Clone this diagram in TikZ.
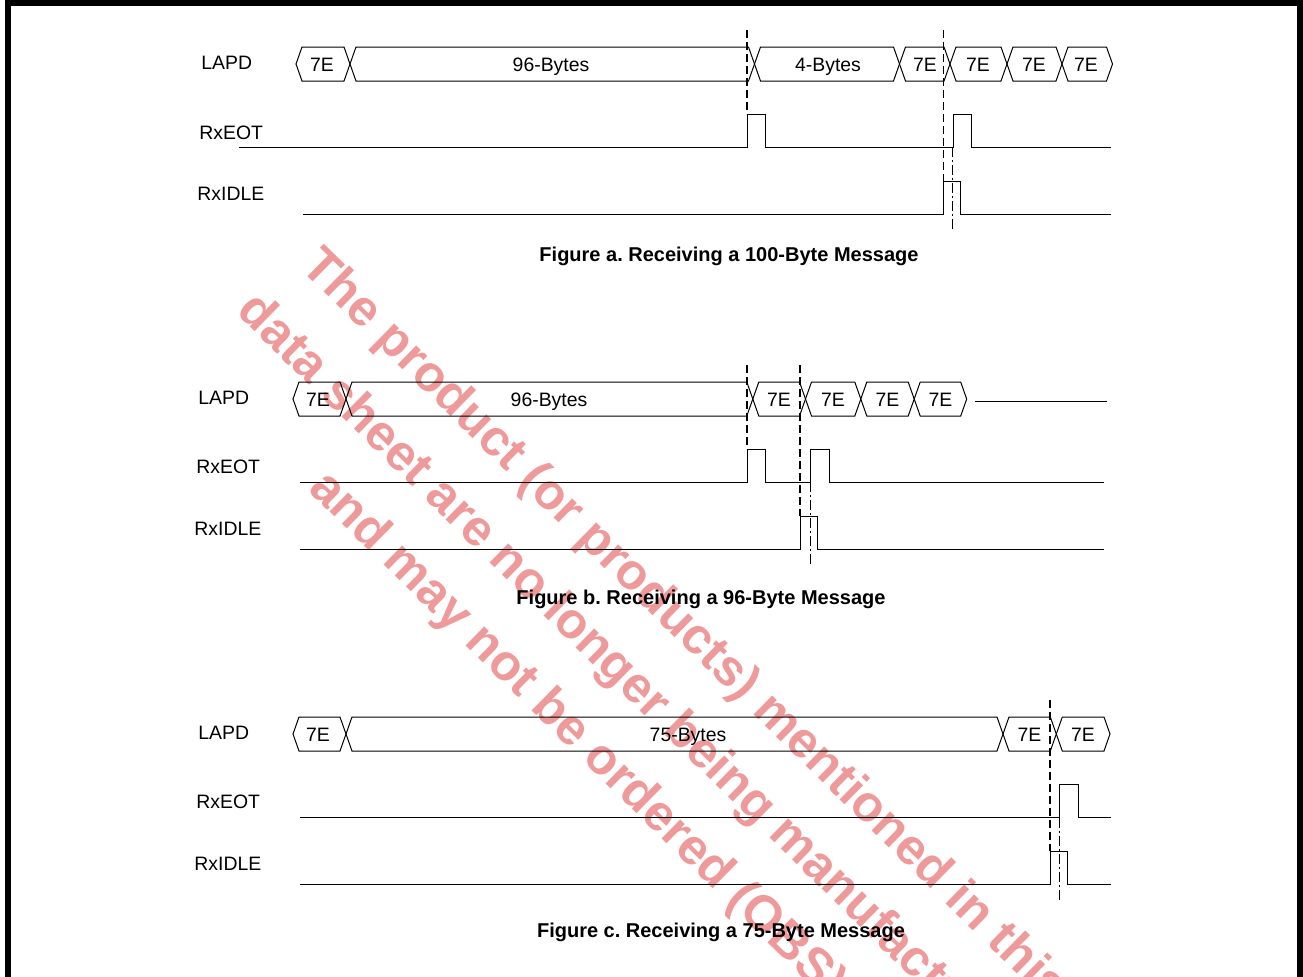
\documentclass[tikz,border=0pt]{standalone}
\usepackage{fontspec}
\setmainfont{Liberation Sans}
\frenchspacing
\definecolor{wmred}{RGB}{239,154,154}
% one byte field of the LAPD bus, from #1 to #2, centred on y=#3
\newcommand{\hexseg}[3]{%
  \draw[busline] (#1,#3) -- (#1+6,#3-17) -- (#2-6,#3-17) -- (#2,#3)
    -- (#2-6,#3+17) -- (#1+6,#3+17) -- cycle;}
\tikzset{
	busline/.style={line width=0.5pt},
	sigline/.style={line width=0.5pt},
	guidedash/.style={line width=0.8pt, dash pattern=on 4pt off 2pt},
	guidedot/.style={line width=0.8pt, dash pattern=on 5pt off 1.5pt on 1pt off 1.5pt},
	sigtext/.style={inner sep=0pt, anchor=west, font=\fontsize{9.7}{11}\selectfont},
	bytetext/.style={inner sep=0pt, anchor=base, font=\fontsize{9.7}{11}\selectfont},
	captext/.style={inner sep=0pt, anchor=base, font=\fontsize{10}{12}\selectfont\bfseries},
	watermark/.style={inner sep=0pt, align=center, rotate=-44.5, text=wmred,
			font=\fontsize{25.25}{38.2}\selectfont\bfseries}
}
\begin{document}
\begin{tikzpicture}[x=0.5pt, y=-0.5pt]
\useasboundingbox (0,0) rectangle (1303,976);

% watermark behind the figures
\node[watermark] (wm) at (630,682) {The product (or products) mentioned in this\\data sheet are no longer being manufactured\\and may not be ordered (OBS)};

% frame
\draw[line width=3pt] (8,1010) -- (8,3) -- (1300,3) -- (1300,1010);

% Figure a
\node[sigtext] (lapdA) at (201,63) {LAPD};
\node[sigtext] (eotA) at (199,133) {RxEOT};
\node[sigtext] (idleA) at (197,194) {RxIDLE};

\hexseg{296}{350}{64}
\hexseg{350}{754.5}{64}
\hexseg{754.5}{899.5}{64}
\hexseg{899.5}{950}{64}
\hexseg{950}{1007}{64}
\hexseg{1007}{1062}{64}
\hexseg{1062}{1112.5}{64}
\node[bytetext] (a1) at (322,71) {7E};
\node[bytetext] (a2) at (551,71) {96-Bytes};
\node[bytetext] (a3) at (828,71) {4-Bytes};
\node[bytetext] (a4) at (925,71) {7E};
\node[bytetext] (a5) at (978,71) {7E};
\node[bytetext] (a6) at (1034,71) {7E};
\node[bytetext] (a7) at (1086,71) {7E};

\draw[sigline] (239,147) -- (747,147) -- (747,114) -- (765,114) -- (765,147)
  -- (953,147) -- (953,114) -- (971,114) -- (971,147) -- (1111,147);
\draw[sigline] (303,214) -- (943.5,214) -- (943.5,181) -- (960,181) -- (960,214) -- (1111,214);

\draw[guidedash] (747,30) -- (747,114);
\draw[guidedash] (943.5,30) -- (943.5,181);
\draw[guidedot] (952.5,147) -- (952.5,232);

\node[captext] (capA) at (729,261) {Figure a. Receiving a 100-Byte Message};

% Figure b
\node[sigtext] (lapdB) at (198,398) {LAPD};
\node[sigtext] (eotB) at (196,467) {RxEOT};
\node[sigtext] (idleB) at (194,529) {RxIDLE};

\hexseg{293}{346}{399}
\hexseg{346}{752.8}{399}
\hexseg{752.8}{805.5}{399}
\hexseg{805.5}{860.8}{399}
\hexseg{860.8}{914.2}{399}
\hexseg{914.2}{966.7}{399}
\node[bytetext] (b1) at (318,406) {7E};
\node[bytetext] (b2) at (549,406) {96-Bytes};
\node[bytetext] (b3) at (779,406) {7E};
\node[bytetext] (b4) at (833,406) {7E};
\node[bytetext] (b5) at (887.5,406) {7E};
\node[bytetext] (b6) at (940.5,406) {7E};
\draw[busline] (975,401) -- (1107,401);

\draw[sigline] (300,482) -- (747,482) -- (747,449) -- (765,449) -- (765,482)
  -- (810.5,482) -- (810.5,449) -- (829,449) -- (829,482) -- (1104,482);
\draw[sigline] (300,549) -- (800,549) -- (800,516) -- (817,516) -- (817,549) -- (1104,549);

\draw[guidedash] (747,365) -- (747,449);
\draw[guidedash] (800,365) -- (800,516);
\draw[guidedot] (810.5,482) -- (810.5,567);

\node[captext] (capB) at (701,604) {Figure b. Receiving a 96-Byte Message};

% Figure c
\node[sigtext] (lapdC) at (198,733) {LAPD};
\node[sigtext] (eotC) at (196,802) {RxEOT};
\node[sigtext] (idleC) at (194,864) {RxIDLE};

\hexseg{293}{346}{734}
\hexseg{346}{1003}{734}
\hexseg{1003}{1056.3}{734}
\hexseg{1056.3}{1110}{734}
\node[bytetext] (c1) at (318,741) {7E};
\node[bytetext] (c2) at (688,741) {75-Bytes};
\node[bytetext] (c3) at (1029.5,741) {7E};
\node[bytetext] (c4) at (1083,741) {7E};

\draw[sigline] (300,817.5) -- (1059.3,817.5) -- (1059.3,784.5) -- (1078.3,784.5)
  -- (1078.3,817.5) -- (1111,817.5);
\draw[sigline] (300,884) -- (1050,884) -- (1050,851) -- (1067.3,851) -- (1067.3,884) -- (1111,884);

\draw[guidedash] (1050,700) -- (1050,851);
\draw[guidedot] (1059.3,817.5) -- (1059.3,901);

\node[captext] (capC) at (721,937) {Figure c. Receiving a 75-Byte Message};

\end{tikzpicture}
\end{document}
